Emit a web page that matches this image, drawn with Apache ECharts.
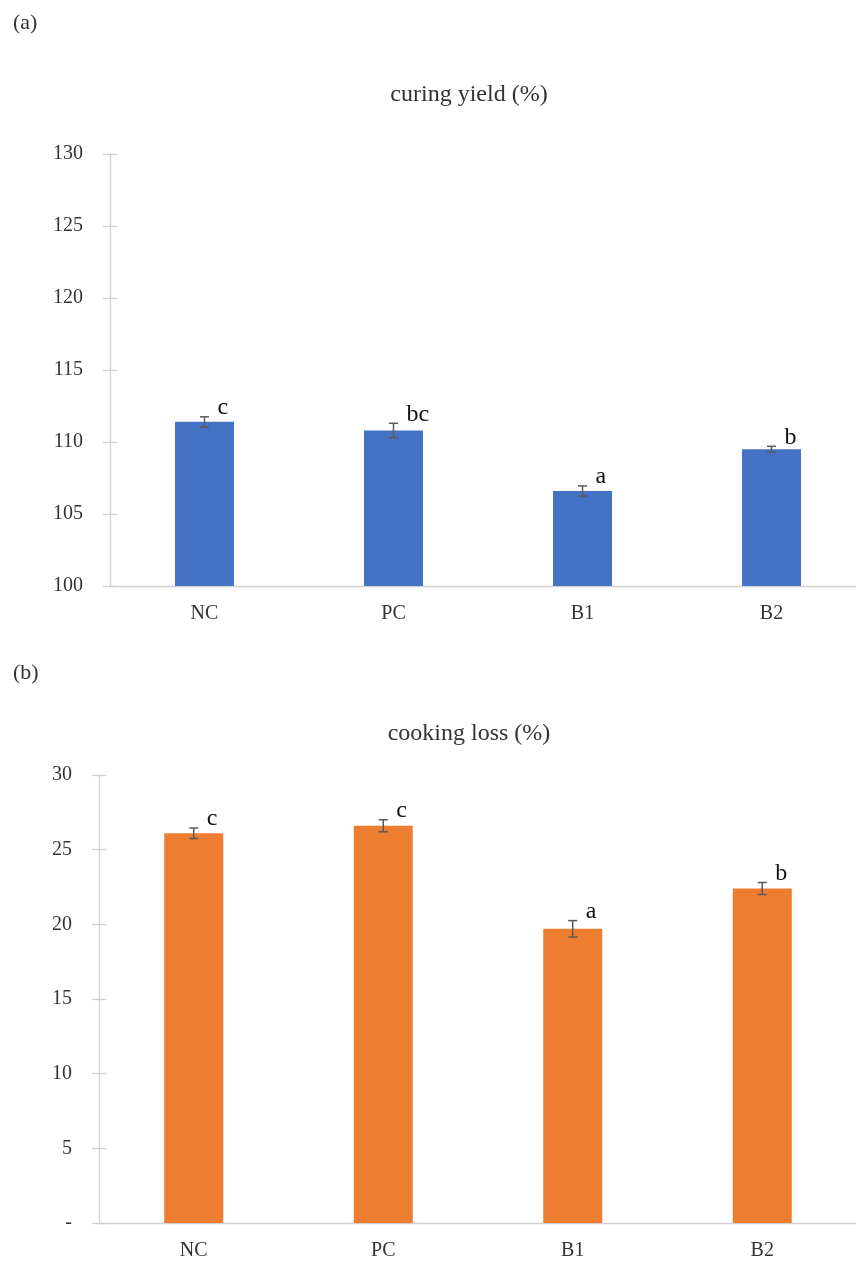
<!DOCTYPE html>
<html>
<head>
<meta charset="utf-8">
<script src="https://cdn.jsdelivr.net/npm/echarts@6/dist/echarts.min.js"></script>
<style>
  html, body { margin: 0; padding: 0; background: #fff; overflow: hidden; }
</style>
</head>
<body>
<!-- the plot runs past the right edge in the original, so the canvas is a bit wider than the window -->
<div id="chart" style="width: 880px; height: 1266px;"></div>
<script>
// data
const categories = ['NC', 'PC', 'B1', 'B2'];

const curingYield = [111.4, 110.8, 106.6, 109.5];
const curingErr = [0.35, 0.5, 0.35, 0.2];
const curingLetters = ['c', 'bc', 'a', 'b'];
const curingTicks = [100, 105, 110, 115, 120, 125, 130];

const cookingLoss = [26.1, 26.6, 19.7, 22.4];
const cookingErr = [0.35, 0.4, 0.55, 0.4];
const cookingLetters = ['c', 'c', 'a', 'b'];
const cookingTicks = [0, 5, 10, 15, 20, 25, 30];

const FONT = '"Liberation Serif", "DejaVu Serif", serif';
const TEXT = '#333';
const AXIS = '#d0d0d0';

function errData(vals, errs) {
  return vals.map((v, i) => [i, v, errs[i]]);
}

// error bar + significance letter
function errRenderer(letters) {
  return function (params, api) {
    const i = api.value(0);
    const v = api.value(1);
    const e = api.value(2);
    const top = api.coord([i, v + e]);
    const bot = api.coord([i, v - e]);
    const cap = 4.5;
    const style = { stroke: '#5a5a5a', lineWidth: 1.5 };
    return {
      type: 'group',
      children: [
        { type: 'line', shape: { x1: top[0], y1: top[1], x2: bot[0], y2: bot[1] }, style: style },
        { type: 'line', shape: { x1: top[0] - cap, y1: top[1], x2: top[0] + cap, y2: top[1] }, style: style },
        { type: 'line', shape: { x1: bot[0] - cap, y1: bot[1], x2: bot[0] + cap, y2: bot[1] }, style: style },
        {
          type: 'text',
          x: top[0] + 13,
          y: top[1] + 3,
          style: {
            text: letters[params.dataIndex],
            font: '24px ' + FONT,
            fill: '#111',
            textAlign: 'left',
            textVerticalAlign: 'bottom'
          }
        }
      ]
    };
  };
}

function yAxes(gridIndex, ticks, fmt) {
  const min = ticks[0];
  const max = ticks[ticks.length - 1];
  const interval = ticks[1] - ticks[0];
  return [
    {
      gridIndex: gridIndex,
      type: 'value',
      min: min, max: max, interval: interval,
      splitLine: { show: false },
      axisLine: { show: true, lineStyle: { color: AXIS, width: 1.3 } },
      axisTick: { show: true, length: 7, lineStyle: { color: AXIS, width: 1.3 } },
      axisLabel: { margin: 27, fontSize: 20, fontFamily: FONT, color: TEXT, formatter: fmt }
    },
    {
      // inner half of the crossing ticks
      gridIndex: gridIndex,
      type: 'value',
      position: 'left',
      min: min, max: max, interval: interval,
      splitLine: { show: false },
      axisLine: { show: false },
      axisTick: { show: true, inside: true, length: 7, lineStyle: { color: AXIS, width: 1.3 } },
      axisLabel: { show: false }
    }
  ];
}

function xAxis(gridIndex) {
  return {
    gridIndex: gridIndex,
    type: 'category',
    data: categories,
    axisTick: { show: false },
    axisLine: { lineStyle: { color: AXIS, width: 1.3 } },
    axisLabel: { margin: 18, fontSize: 20, fontFamily: FONT, color: TEXT }
  };
}

const chart = echarts.init(document.getElementById('chart'));

const option = {
  backgroundColor: '#fff',
  animation: false,
  graphic: [
    { type: 'text', left: 13, top: 12, style: { text: '(a)', font: '22px ' + FONT, fill: TEXT } },
    { type: 'text', x: 469, y: 95, style: { text: 'curing yield (%)', font: '24px ' + FONT, fill: TEXT, textAlign: 'center', textVerticalAlign: 'middle' } },
    { type: 'text', left: 13, top: 662, style: { text: '(b)', font: '22px ' + FONT, fill: TEXT } },
    { type: 'text', x: 469, y: 734, style: { text: 'cooking loss (%)', font: '24px ' + FONT, fill: TEXT, textAlign: 'center', textVerticalAlign: 'middle' } }
  ],
  grid: [
    { left: 110, top: 154, width: 756, height: 432 },
    { left: 99, top: 775, width: 758, height: 448 }
  ],
  xAxis: [xAxis(0), xAxis(1)],
  yAxis: yAxes(0, curingTicks, v => String(v))
    .concat(yAxes(1, cookingTicks, v => (v === 0 ? '-' : String(v)))),
  series: [
    {
      name: 'curing yield',
      type: 'bar',
      xAxisIndex: 0, yAxisIndex: 0,
      barWidth: 59,
      data: curingYield,
      itemStyle: { color: '#4472C4' }
    },
    {
      type: 'custom',
      xAxisIndex: 0, yAxisIndex: 0,
      data: errData(curingYield, curingErr),
      encode: { x: 0, y: 1 },
      renderItem: errRenderer(curingLetters),
      z: 5
    },
    {
      name: 'cooking loss',
      type: 'bar',
      xAxisIndex: 1, yAxisIndex: 2,
      barWidth: 59,
      data: cookingLoss,
      itemStyle: { color: '#ED7D31' }
    },
    {
      type: 'custom',
      xAxisIndex: 1, yAxisIndex: 2,
      data: errData(cookingLoss, cookingErr),
      encode: { x: 0, y: 1 },
      renderItem: errRenderer(cookingLetters),
      z: 5
    }
  ]
};

chart.setOption(option);
</script>
</body>
</html>
